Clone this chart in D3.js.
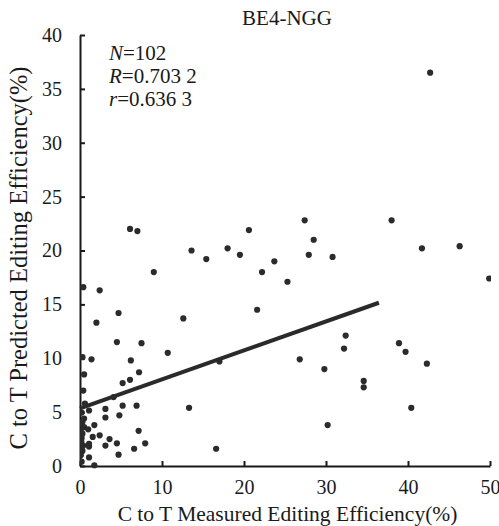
<!DOCTYPE html>
<html>
<head>
<meta charset="utf-8">
<script src="https://cdn.jsdelivr.net/npm/d3@7"></script>
<style>
  html, body { margin: 0; padding: 0; background: #fff; }
  svg { display: block; }
  svg text { font-family: "Liberation Serif", "Times New Roman", serif; }
</style>
</head>
<body>
<svg id="chart" width="499" height="526"></svg>
<script>
// Measured vs predicted C-to-T editing efficiency (%), one entry per target site
const measured = [
  42.7, 27.4, 38.0, 20.6, 28.5, 18.0, 15.4, 19.5, 27.9, 30.8,
  41.7, 46.3, 23.7, 22.2, 25.3, 49.9, 21.6, 32.4, 32.2, 38.9,
  39.7, 42.3, 17.0, 26.8, 29.8, 34.6, 34.6, 40.4, 30.2, 16.6,
  6.1, 7.0, 13.6, 9.0, 0.4, 2.4, 4.7, 12.6, 2.0, 4.5,
  7.5, 10.7, 0.3, 1.4, 6.2, 0.5, 7.2, 6.1, 5.2, 0.4,
  4.1, 0.6, 13.3, 6.9, 5.2, 3.1, 1.1, 0.2, 3.1, 4.8,
  0.3, 1.75, 0.5, 1.0, 0.1, 1.55, 2.4, 0.2, 1.1, 3.6,
  1.1, 0.2, 0.2, 3.1, 4.5, 6.6, 0.3, 1.1, 4.7, 1.75,
  7.15, 7.95, 0.1, 0.3, 0.15, 0.4, 0.1, 0.5, 0.2
];
const predicted = [
  36.5, 22.8, 22.8, 21.9, 21.0, 20.2, 19.2, 19.6, 19.6, 19.4,
  20.2, 20.4, 19.0, 18.0, 17.1, 17.4, 14.5, 12.1, 10.9, 11.4,
  10.6, 9.5, 9.7, 9.9, 9.0, 7.9, 7.3, 5.4, 3.8, 1.6,
  22.0, 21.8, 20.0, 18.0, 16.6, 16.3, 14.2, 13.7, 13.3, 11.5,
  11.4, 10.5, 10.1, 9.9, 9.8, 8.5, 8.7, 8.0, 7.7, 7.0,
  6.4, 5.8, 5.4, 5.6, 5.6, 5.3, 5.15, 4.96, 4.5, 4.7,
  4.1, 3.8, 3.6, 3.4, 3.2, 2.7, 2.85, 2.6, 2.05, 2.5,
  1.8, 2.0, 1.6, 1.9, 2.1, 1.6, 1.4, 0.8, 1.05, 0.07,
  3.26, 2.1, 3.9, 3.0, 2.3, 1.9, 1.0, 4.4, 0.4
];

// Least-squares fit line endpoints (measured, predicted)
const fitMeasured = [0, 36.45];
const fitPredicted = [5.34, 15.15];

const xTicks = [0, 10, 20, 30, 40, 50];
const yTicks = [0, 5, 10, 15, 20, 25, 30, 35, 40];

const chartTitle = "BE4-NGG";
const xTitle = "C to T Measured Editing Efficiency(%)";
const yTitle = "C to T Predicted Editing Efficiency(%)";
const stats = [
  { sym: "N", val: "=102" },
  { sym: "R", val: "=0.703 2" },
  { sym: "r", val: "=0.636 3" }
];

const serif = "'Liberation Serif', 'Times New Roman', serif";
const svg = d3.select("#chart");
const margin = { left: 80, right: 9, top: 35, bottom: 60 };
const W = 499, H = 526;
const x0 = margin.left, x1 = W - margin.right;
const y0 = H - margin.bottom, y1 = margin.top;

const x = d3.scaleLinear().domain([0, 50]).range([x0, x1]);
const y = d3.scaleLinear().domain([0, 40]).range([y0, y1]);

const ink = "#1a1a1a";
const dotColor = "#2b2b2b";

svg.append("defs").append("clipPath").attr("id", "plotClip")
  .append("rect").attr("x", x0).attr("y", y1 - 5)
  .attr("width", x1 - x0 + 1).attr("height", y0 - y1 + 10);

// Axes, ticks pointing into the plot
const yAxis = svg.append("g")
  .attr("transform", `translate(${x0},0)`)
  .call(d3.axisLeft(y).tickValues(yTicks).tickSize(-5).tickSizeOuter(0).tickPadding(18));
const xAxis = svg.append("g")
  .attr("transform", `translate(0,${y0})`)
  .call(d3.axisBottom(x).tickValues(xTicks).tickSize(-5).tickSizeOuter(0).tickPadding(14));

[yAxis, xAxis].forEach(g => {
  g.attr("font-family", serif).attr("font-size", 20);
  g.select(".domain").attr("stroke", ink).attr("stroke-width", 2);
  g.selectAll(".tick line").attr("stroke", ink).attr("stroke-width", 2);
  g.selectAll(".tick text").attr("fill", ink);
});

// Scatter points
const pts = measured.map((m, i) => ({ m, p: predicted[i] }));
svg.append("g").attr("clip-path", "url(#plotClip)")
  .selectAll("circle").data(pts).join("circle")
  .attr("cx", d => x(d.m))
  .attr("cy", d => y(d.p))
  .attr("r", 3.1)
  .attr("fill", dotColor);

// Fit line
const fit = fitMeasured.map((m, i) => [m, fitPredicted[i]]);
svg.append("path")
  .datum(fit)
  .attr("d", d3.line().x(d => x(d[0])).y(d => y(d[1])))
  .attr("fill", "none")
  .attr("stroke", "#2a2a2a")
  .attr("stroke-width", 4);

// Title
svg.append("text")
  .attr("x", 287).attr("y", 25)
  .attr("text-anchor", "middle")
  .attr("fill", ink)
  .attr("font-size", 21)
  .text(chartTitle);

// Statistics block
const statG = svg.append("g");
stats.forEach((s, i) => {
  const t = statG.append("text")
    .attr("x", 109).attr("y", 60 + i * 23)
    .attr("fill", ink)
    .attr("font-size", 21);
  t.append("tspan").attr("font-style", "italic").text(s.sym);
  t.append("tspan").text(s.val);
});

// Axis titles
svg.append("text")
  .attr("x", 287.5).attr("y", 521)
  .attr("text-anchor", "middle")
  .attr("fill", ink)
  .attr("font-size", 21.5)
  .text(xTitle);

svg.append("text")
  .attr("transform", "translate(27,258) rotate(-90)")
  .attr("text-anchor", "middle")
  .attr("fill", ink)
  .attr("font-size", 24.5)
  .text(yTitle);
</script>
</body>
</html>
